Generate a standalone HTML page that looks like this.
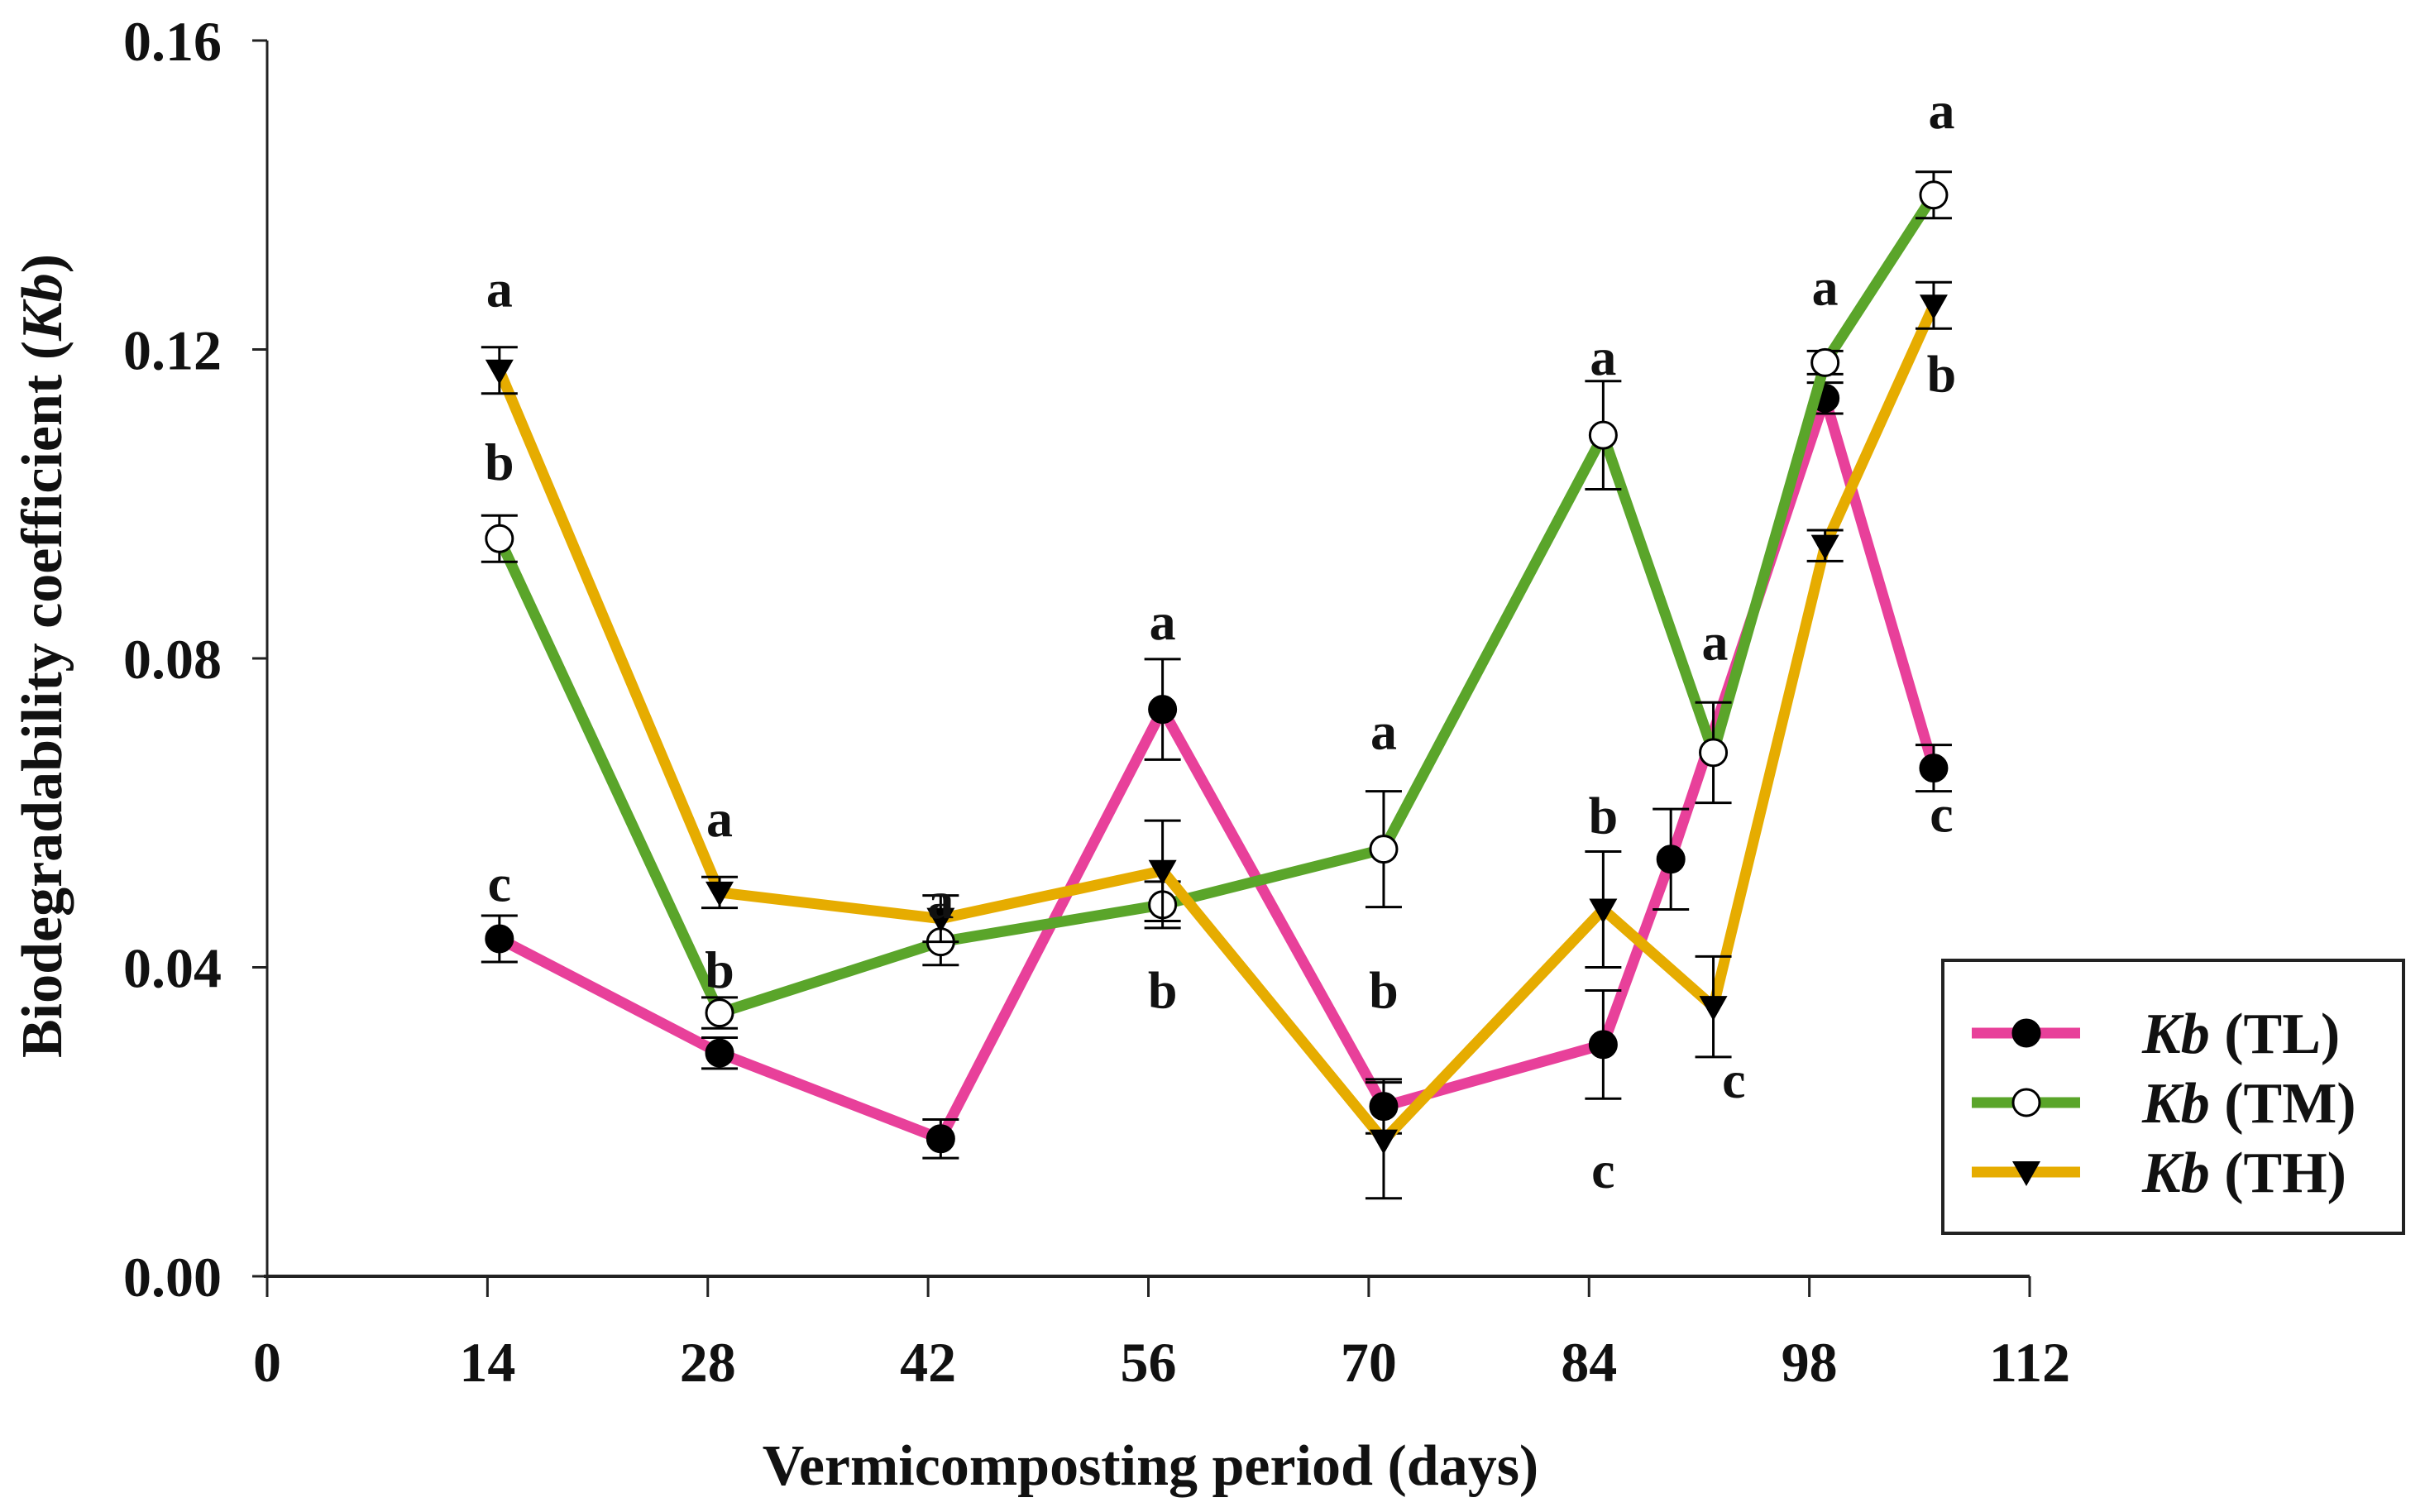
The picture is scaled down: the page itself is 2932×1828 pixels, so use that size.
<!DOCTYPE html>
<html><head><meta charset="utf-8">
<style>
html,body{margin:0;padding:0;background:#fff;}
svg{display:block;}
text{font-family:"Liberation Serif",serif;font-weight:bold;fill:#111;}
</style></head>
<body>
<svg id="chart" width="2932" height="1828" viewBox="0 0 2932 1828" xmlns="http://www.w3.org/2000/svg">
<g id="axes"></g>
<g id="series"></g>
<g id="letters"></g>
<text x="1391" y="1795" font-size="70" text-anchor="middle">Vermicomposting period (days)</text>
<text transform="translate(74,793) rotate(-90)" font-size="70" text-anchor="middle">Biodegradability coefficient (<tspan font-style="italic">Kb</tspan>)</text>
<g id="legend">
<rect x="2349" y="1161" width="557" height="330" fill="#fff" stroke="#222" stroke-width="4"/>
</g>
</svg>
<script>
const xTicks=[0,14,28,42,56,70,84,98,112];
const yTicks=[0,0.04,0.08,0.12,0.16];
const yTickLabels=["0.00","0.04","0.08","0.12","0.16"];
const daysTL=[14.76,28.75,42.8,56.9,70.95,84.9,89.2,99,105.9];
const valsTL=[0.0437,0.0289,0.0178,0.0734,0.022,0.030,0.054,0.1137,0.0658];
const errTL=[0.003,0.002,0.0025,0.0065,0.0035,0.007,0.0065,0.002,0.003];
const daysTM=[14.76,28.75,42.8,56.9,70.95,84.9,91.9,99,105.9];
const valsTM=[0.0955,0.0341,0.0433,0.0481,0.0553,0.1089,0.0678,0.1183,0.140];
const errTM=[0.003,0.002,0.003,0.003,0.0075,0.007,0.0065,0.0015,0.003];
const daysTH=[14.76,28.75,42.8,56.9,70.95,84.9,91.9,99,105.9];
const valsTH=[0.1173,0.0497,0.0463,0.0525,0.0176,0.0475,0.0349,0.0946,0.1257];
const errTH=[0.003,0.002,0.003,0.0065,0.0075,0.0075,0.0065,0.002,0.003];
const letterDays=[14.76,14.76,14.76,28.75,28.75,42.8,56.9,56.9,70.95,70.95,84.9,84.9,84.9,92,93.2,99,106.4,106.4,106.4];
const letterVals=[0.1277,0.1053,0.0507,0.0591,0.0395,0.0485,0.0846,0.0369,0.0704,0.0369,0.1189,0.0595,0.0136,0.0820,0.0253,0.1279,0.1508,0.1167,0.0597];
const letterText=["a","b","c","a","b","a","a","b","a","b","a","b","c","a","c","a","a","b","c"];

const NS="http://www.w3.org/2000/svg";
const X0=323,X1=2454,Y0=1543,Y1=49;
const xs=d=>X0+(d/112)*(X1-X0);
const ys=v=>Y0-(v/0.16)*(Y0-Y1);
function mk(tag,attrs,parent){const e=document.createElementNS(NS,tag);for(const k in attrs)e.setAttribute(k,attrs[k]);parent.appendChild(e);return e;}
const axes=document.getElementById('axes');
let el=mk('line',{x1:X0,y1:Y1,x2:X0,y2:Y0,stroke:'#222','stroke-width':3},axes);


el=mk('line',{x1:X0-4,y1:Y0,x2:X1,y2:Y0,stroke:'#222','stroke-width':4},axes);


yTicks.forEach((v,i)=>{
  const t=mk('line',{x1:X0-18,y1:ys(v),x2:X0,y2:ys(v),stroke:'#222','stroke-width':3},axes);
  
  
  const l=mk('text',{x:268,y:ys(v)+24,'font-size':68,'text-anchor':'end'},axes);
  l.textContent=yTickLabels[i];
  
  
});
xTicks.forEach(d=>{
  const t=mk('line',{x1:xs(d),y1:Y0,x2:xs(d),y2:Y0+25,stroke:'#222','stroke-width':3},axes);
  
  
  const l=mk('text',{x:xs(d),y:1670,'font-size':68,'text-anchor':'middle'},axes);
  l.textContent=d;
  
  
});
const series=document.getElementById('series');
function marker(kind,cx,cy,parent){
  let m;
  if(kind==='tri'){m=mk('polygon',{points:`${cx-17},${cy-13} ${cx+17},${cy-13} ${cx},${cy+17}`,fill:'#000'},parent);}
  else m=mk('circle',{cx:cx,cy:cy,r:16,fill:kind==='open'?'#fff':'#000',stroke:'#000','stroke-width':3},parent);
  return m;
}
function drawSeries(name,days,vals,errs,color,kind){
  const g=mk('g',{},series);
  
  
  const pts=days.map((d,i)=>xs(d)+','+ys(vals[i])).join(' ');
  const pl=mk('polyline',{points:pts,fill:'none',stroke:color,'stroke-width':13,'stroke-linejoin':'round'},g);
  
  
  days.forEach((d,i)=>{
    const x=xs(d),yt=ys(vals[i]+errs[i]),yb=ys(vals[i]-errs[i]);
    const eb=mk('path',{d:`M${x},${yt}V${yb}M${x-22},${yt}H${x+22}M${x-22},${yb}H${x+22}`,stroke:'#000','stroke-width':3,fill:'none'},g);
    
    
  });
  days.forEach((d,i)=>{
    const m=marker(kind,xs(d),ys(vals[i]),g);
    
    
  });
}
drawSeries('tl',daysTL,valsTL,errTL,'#e8409a','filled');
drawSeries('tm',daysTM,valsTM,errTM,'#5aa52a','open');
drawSeries('th',daysTH,valsTH,errTH,'#e6ac00','tri');
const lg=document.getElementById('letters');
letterText.forEach((t,i)=>{
  const l=mk('text',{x:xs(letterDays[i]),y:ys(letterVals[i])+20,'font-size':64,'text-anchor':'middle'},lg);
  l.textContent=t;
  
  
});
const leg=document.getElementById('legend');
const legNames=['TL','TM','TH'],legColors=['#e8409a','#5aa52a','#e6ac00'],legKinds=['filled','open','tri'],legY=[1249,1333,1417];
legNames.forEach((n,i)=>{
  const ln=mk('line',{x1:2384,y1:legY[i],x2:2515,y2:legY[i],stroke:legColors[i],'stroke-width':13},leg);
  
  
  const m=marker(legKinds[i],2450,legY[i],leg);
  
  
  const t=mk('text',{x:2590,y:legY[i]+24,'font-size':70},leg);
  t.innerHTML='<tspan font-style="italic">Kb</tspan> ('+n+')';
  
  
});
</script>
</body></html>
